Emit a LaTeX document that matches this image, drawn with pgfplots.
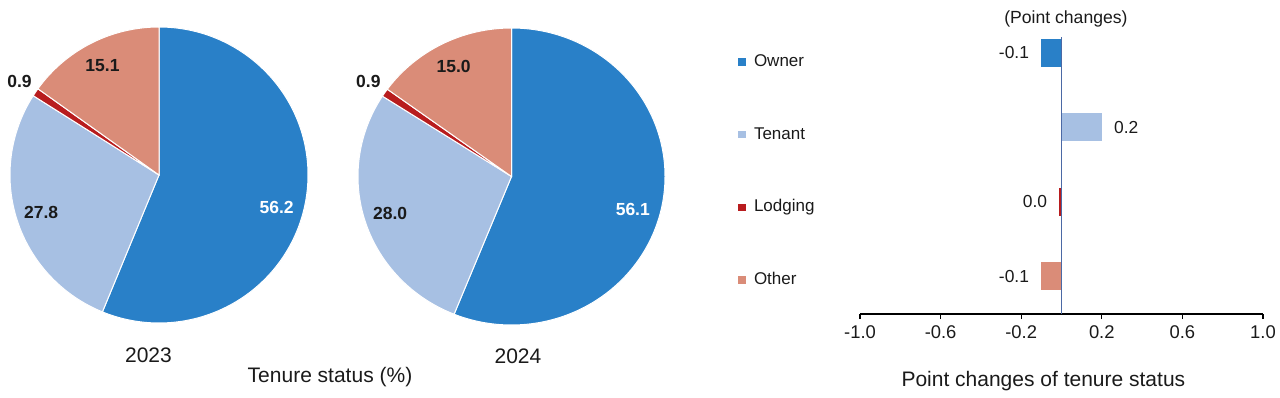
\documentclass[border=0pt]{standalone}
\usepackage{pgfplots}
\pgfplotsset{compat=1.18}
\usepackage{pgfplotstable}
\usepackage{fontspec}
\setmainfont{Liberation Sans}

\definecolor{cOwner}{RGB}{41,128,200}
\definecolor{cTenant}{RGB}{167,192,227}
\definecolor{cLodging}{RGB}{184,28,30}
\definecolor{cOther}{RGB}{218,140,120}
\definecolor{zline}{RGB}{75,105,165}
\definecolor{txt}{RGB}{26,26,26}

\pgfplotstableread{
cat value
Owner 56.2
Tenant 27.8
Lodging 0.9
Other 15.1
}\pieA
\pgfplotstableread{
cat value
Owner 56.1
Tenant 28.0
Lodging 0.9
Other 15.0
}\pieB

% cumulative angles (clockwise from 90 deg) and values, stored under a prefix
\newcommand\pieangles[2]{%
  \pgfplotstablegetelem{0}{value}\of{#1}\let\vOne\pgfplotsretval
  \pgfplotstablegetelem{1}{value}\of{#1}\let\vTwo\pgfplotsretval
  \pgfplotstablegetelem{2}{value}\of{#1}\let\vThree\pgfplotsretval
  \pgfplotstablegetelem{3}{value}\of{#1}\let\vFour\pgfplotsretval
  \pgfmathsetmacro\tmpB{90-3.6*\vOne}%
  \pgfmathsetmacro\tmpC{\tmpB-3.6*\vTwo}%
  \pgfmathsetmacro\tmpD{\tmpC-3.6*\vThree}%
  \pgfmathsetmacro\tmpE{\tmpD-3.6*\vFour}%
  \expandafter\xdef\csname #2B\endcsname{\tmpB}%
  \expandafter\xdef\csname #2C\endcsname{\tmpC}%
  \expandafter\xdef\csname #2D\endcsname{\tmpD}%
  \expandafter\xdef\csname #2E\endcsname{\tmpE}%
  \expandafter\xdef\csname #2vA\endcsname{\vOne}%
  \expandafter\xdef\csname #2vB\endcsname{\vTwo}%
  \expandafter\xdef\csname #2vC\endcsname{\vThree}%
  \expandafter\xdef\csname #2vD\endcsname{\vFour}%
}
\newcommand\pieslice[5]{%
  \fill[#3, draw=white, line width=0.5pt] (axis cs:0,0) -- (axis cs:{cos(#1)},{sin(#1)})
    arc[start angle=#1, end angle=#2, x radius=#4, y radius=#5] -- cycle;}
\newcommand\pielabel[5]{% start, end, radius factor, angle offset, text
  \node[inner sep=0pt, font=\fontsize{8.75}{10}\selectfont\bfseries, text=txt]
    at (axis cs:{#3*cos((#1+#2)/2+#4)},{#3*sin((#1+#2)/2+#4)}) {#5};}
\newcommand\num[1]{\pgfmathprintnumber[fixed,precision=1,fixed zerofill,assume math mode=true]{#1}}

\begin{document}
\begin{tikzpicture}
\path[use as bounding box] (0,0) rectangle (640pt,198.5pt);
\pieangles{\pieA}{pa}
\pieangles{\pieB}{pb}

% ---------- Pie 2023 ----------
\begin{axis}[at={(79.5pt,111pt)}, anchor=center, scale only axis,
  width=149pt, height=148pt, xmin=-1, xmax=1, ymin=-1, ymax=1,
  hide axis, clip=false]
\pieslice{90}{\paB}{cOwner}{74.5pt}{74pt}
\pieslice{\paB}{\paC}{cTenant}{74.5pt}{74pt}
\pieslice{\paC}{\paD}{cLodging}{74.5pt}{74pt}
\pieslice{\paD}{\paE}{cOther}{74.5pt}{74pt}
\pielabel{90}{\paB}{0.82}{-4.5}{\textcolor{white}{\num{\pavA}}}
\pielabel{\paB}{\paC}{0.83}{0}{\num{\pavB}}
\pielabel{\paC}{\paD}{1.13}{0}{\num{\pavC}}
\pielabel{\paD}{\paE}{0.83}{0}{\num{\pavD}}
\end{axis}

% ---------- Pie 2024 ----------
\begin{axis}[at={(255.75pt,110.25pt)}, anchor=center, scale only axis,
  width=153.5pt, height=148.5pt, xmin=-1, xmax=1, ymin=-1, ymax=1,
  hide axis, clip=false]
\pieslice{90}{\pbB}{cOwner}{76.75pt}{74.25pt}
\pieslice{\pbB}{\pbC}{cTenant}{76.75pt}{74.25pt}
\pieslice{\pbC}{\pbD}{cLodging}{76.75pt}{74.25pt}
\pieslice{\pbD}{\pbE}{cOther}{76.75pt}{74.25pt}
\pielabel{90}{\pbB}{0.82}{-4.5}{\textcolor{white}{\num{\pbvA}}}
\pielabel{\pbB}{\pbC}{0.83}{0}{\num{\pbvB}}
\pielabel{\pbC}{\pbD}{1.13}{0}{\num{\pbvC}}
\pielabel{\pbD}{\pbE}{0.83}{0}{\num{\pbvD}}
\end{axis}

\node[font=\fontsize{10.5}{12}\selectfont, text=txt] at (74.25pt,21pt) {2023};
\node[font=\fontsize{10.5}{12}\selectfont, text=txt] at (259pt,20.5pt) {2024};
\node[font=\fontsize{10.5}{12}\selectfont, text=txt] at (165pt,10pt) {Tenure status (\%)};

% ---------- Bar chart ----------
\begin{axis}[at={(430pt,41.5pt)}, anchor=south west, scale only axis,
  width=201.5pt, height=138.5pt,
  xmin=-1, xmax=1, ymin=0.489, ymax=4.215,
  axis x line*=bottom, axis y line=none,
  xtick={-1,-0.6,-0.2,0.2,0.6,1}, ytick=\empty,
  /pgf/number format/assume math mode=true,
  xticklabel style={font=\fontsize{9.2}{11}\selectfont, text=txt,
    /pgf/number format/fixed, /pgf/number format/precision=1,
    /pgf/number format/fixed zerofill},
  tick align=outside, major tick length=2.5pt,
  x tick style={black, line width=0.6pt},
  x axis line style={black, line width=0.8pt},
  xlabel={Point changes of tenure status},
  xlabel style={at={(axis description cs:0.455,-0.242)}, anchor=center,
    font=\fontsize{10.5}{12}\selectfont, text=txt},
  title={(Point changes)},
  title style={at={(axis description cs:0.511,1.022)}, anchor=center,
    font=\fontsize{8.8}{10}\selectfont, text=txt},
  legend image code/.code={\fill[#1] (0pt,-1.9pt) rectangle (3.8pt,1.9pt); \path (7.8pt,0pt);},
  legend cell align=left,
  legend style={at={(axis description cs:-0.3027,0.942)}, anchor=north west,
    draw=none, fill=none, inner sep=0pt, row sep=27.85pt,
    font=\fontsize{8.5}{10}\selectfont,
    nodes={inner sep=0pt, text height=6.5pt, text depth=2pt, text=txt}},
  clip=false,
  barstyle/.style={xbar, bar width=0.38, bar shift=0pt, draw=none,
    nodes near coords, point meta=explicit symbolic,
    every node near coord/.append style={font=\fontsize{8.7}{10}\selectfont,
      text=txt, inner sep=0pt}},
  ]
\addplot[barstyle, fill=cOwner,
  every node near coord/.append style={anchor=east, xshift=-6pt}]
  coordinates {(-0.1,4) [-0.1]};
\addplot[barstyle, fill=cTenant,
  every node near coord/.append style={anchor=west, xshift=6pt}]
  coordinates {(0.2,3) [0.2]};
\addplot[barstyle, fill=cLodging,
  every node near coord/.append style={anchor=east, xshift=-6pt}]
  coordinates {(-0.01,2) [0.0]};
\addplot[barstyle, fill=cOther,
  every node near coord/.append style={anchor=east, xshift=-6pt}]
  coordinates {(-0.1,1) [-0.1]};
\addplot[zline, line width=0.6pt, forget plot] coordinates {(0,0.489) (0,4.215)};
\legend{Owner, Tenant, Lodging, Other}
\end{axis}
\end{tikzpicture}
\end{document}
